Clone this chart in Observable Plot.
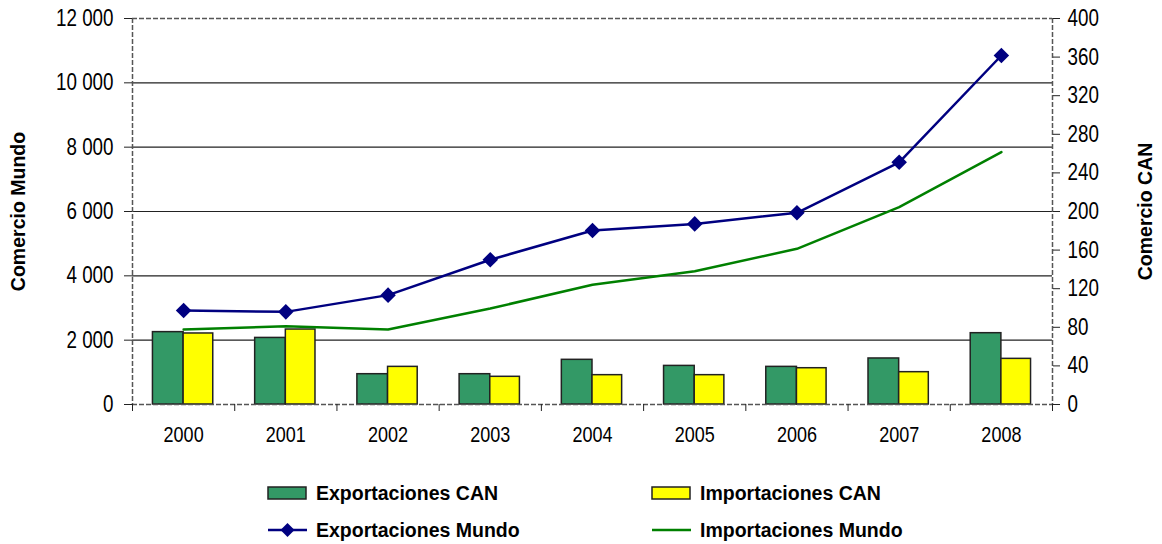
<!DOCTYPE html>
<html>
<head>
<meta charset="utf-8">
<script src="https://cdn.jsdelivr.net/npm/d3@7"></script>
<script src="https://cdn.jsdelivr.net/npm/@observablehq/plot@0.6"></script>
<style>
  html, body { margin: 0; padding: 0; background: #fff; }
  #wrap { position: relative; width: 1162px; height: 544px; overflow: hidden; background: #fff; }
  #chart { position: absolute; left: 0; top: 0; }
  .leg { position: absolute; font-family: "Liberation Sans", Arial, sans-serif; font-weight: bold; font-size: 19.5px; color: #000; height: 26px; line-height: 26px; white-space: nowrap; }
  .sym { position: absolute; }
</style>
</head>
<body>
<div id="wrap">
  <div id="chart"></div>
</div>
<script>
// ---- data ----
const years = [2000, 2001, 2002, 2003, 2004, 2005, 2006, 2007, 2008];
const exportacionesCAN = [75, 69, 31.4, 31.4, 46.3, 40, 39, 47.7, 73.9];
const importacionesCAN = [73.6, 77.7, 39, 28.7, 30.4, 30.4, 37.6, 33.5, 47.3];
const exportacionesMundo = [2920, 2880, 3400, 4500, 5410, 5615, 5960, 7530, 10850];
const importacionesMundo = [2330, 2430, 2330, 2985, 3720, 4145, 4840, 6135, 7845];
const leftTicks = [0, 2000, 4000, 6000, 8000, 10000, 12000];
const rightTicks = [0, 40, 80, 120, 160, 200, 240, 280, 320, 360, 400];
const seriesNames = ["Exportaciones CAN", "Importaciones CAN", "Exportaciones Mundo", "Importaciones Mundo"];
const leftTitle = "Comercio Mundo";
const rightTitle = "Comercio CAN";

const RATIO = 12000 / 400; // right axis -> left axis units
const rows = years.map((year, i) => ({
  year,
  expCAN: exportacionesCAN[i],
  impCAN: importacionesCAN[i],
  expMundo: exportacionesMundo[i],
  impMundo: importacionesMundo[i]
}));
const boundaries = d3.range(years.length + 1).map(i => years[0] - 0.5 + i);

const loc = d3.formatLocale({ decimal: ",", thousands: " ", grouping: [3], currency: ["", ""] });
const fmt = loc.format(",");

const sans = '"Liberation Sans", Arial, sans-serif';

const chart = Plot.plot({
  width: 1162,
  height: 460,
  marginLeft: 132,
  marginRight: 110,
  marginTop: 18,
  marginBottom: 56,
  x: { type: "linear", domain: [years[0] - 0.5, years[years.length - 1] + 0.5], axis: null },
  y: { domain: [0, 12000], axis: null },
  style: { background: "white", color: "#000", fontFamily: sans, overflow: "visible" },
  marks: [
    Plot.ruleY(leftTicks.slice(1, -1), { stroke: "#222", strokeWidth: 1.2 }),
    Plot.rectY(rows, { x1: d => d.year - 0.3, x2: d => d.year, y: d => d.expCAN * RATIO, fill: "#339966", stroke: "#222", strokeWidth: 1.5 }),
    Plot.rectY(rows, { x1: d => d.year, x2: d => d.year + 0.29, y: d => d.impCAN * RATIO, fill: "#ffff00", stroke: "#222", strokeWidth: 1.5 }),
    Plot.line(rows, { x: "year", y: "impMundo", stroke: "#008000", strokeWidth: 2.5 }),
    Plot.line(rows, { x: "year", y: "expMundo", stroke: "#000080", strokeWidth: 2.5 }),
    Plot.dot(rows, { x: "year", y: "expMundo", symbol: "diamond2", r: 7, fill: "#000080", stroke: "none" }),
    // plot area border (dashed)
    Plot.ruleX([boundaries[0], boundaries[boundaries.length - 1]], { stroke: "#555", strokeWidth: 1.5, strokeDasharray: "5,2" }),
    Plot.ruleY([0, 12000], { stroke: "#555", strokeWidth: 1.5, strokeDasharray: "5,2" }),
    // axes
    Plot.axisY(leftTicks, { anchor: "left", tickFormat: fmt, tickSize: 8, tickPadding: 11, fontSize: 23.5, label: null, stroke: "#222" }),
    Plot.axisY(rightTicks.map(v => v * RATIO), { anchor: "right", tickFormat: d => String(Math.round(d / RATIO)), tickSize: 7, tickPadding: 8, fontSize: 23.5, label: null, stroke: "#222" }),
    Plot.axisX(boundaries, { anchor: "bottom", tickFormat: () => "", tickSize: 7, label: null, stroke: "#222" }),
    Plot.axisX(years, { anchor: "bottom", tickFormat: d => String(d), tickSize: 0, tickPadding: 22, fontSize: 22.5, label: null }),
    // axis titles
    Plot.text([leftTitle], { frameAnchor: "left", textAnchor: "middle", dx: -114, rotate: -90, fontSize: 19.5, fontWeight: "bold", fill: "#000" }),
    Plot.text([rightTitle], { frameAnchor: "right", textAnchor: "middle", dx: 93, rotate: -90, fontSize: 19.5, fontWeight: "bold", fill: "#000" })
  ]
});
document.getElementById("chart").appendChild(chart);

// narrow the tick label glyphs (the original uses a narrow typeface)
chart.querySelectorAll('g[aria-label$="tick label"] text').forEach(t => {
  const w = t.getComputedTextLength();
  if (w > 0) {
    const isX = t.closest('g').getAttribute('aria-label').startsWith('x');
    t.setAttribute("textLength", (w * (isX ? 0.8 : 0.8)).toFixed(2));
    t.setAttribute("lengthAdjust", "spacingAndGlyphs");
  }
});

// ---- legend ----
const wrap = document.getElementById("wrap");
const legendItems = [
  { name: seriesNames[0], kind: "rect", color: "#339966", x: 268, y: 493 },
  { name: seriesNames[1], kind: "rect", color: "#ffff00", x: 652, y: 493 },
  { name: seriesNames[2], kind: "lineDot", color: "#000080", x: 268, y: 530 },
  { name: seriesNames[3], kind: "line", color: "#008000", x: 652, y: 530 }
];
legendItems.forEach(it => {
  const s = document.createElementNS("http://www.w3.org/2000/svg", "svg");
  s.setAttribute("width", 44); s.setAttribute("height", 20);
  s.setAttribute("class", "sym");
  s.style.left = (it.x - 2) + "px"; s.style.top = (it.y - 10) + "px";
  if (it.kind === "rect") {
    s.innerHTML = `<rect x="2" y="4" width="38" height="12" fill="${it.color}" stroke="#222" stroke-width="1.5"/>`;
  } else if (it.kind === "lineDot") {
    s.innerHTML = `<line x1="2" y1="10" x2="41" y2="10" stroke="${it.color}" stroke-width="2.5"/><path d="M21.5,3 L28.5,10 L21.5,17 L14.5,10 Z" fill="${it.color}"/>`;
  } else {
    s.innerHTML = `<line x1="2" y1="10" x2="41" y2="10" stroke="${it.color}" stroke-width="2.5"/>`;
  }
  wrap.appendChild(s);
  const t = document.createElement("div");
  t.className = "leg";
  t.textContent = it.name;
  t.style.left = (it.x + 48) + "px";
  t.style.top = (it.y - 13) + "px";
  wrap.appendChild(t);
});
</script>
</body>
</html>
